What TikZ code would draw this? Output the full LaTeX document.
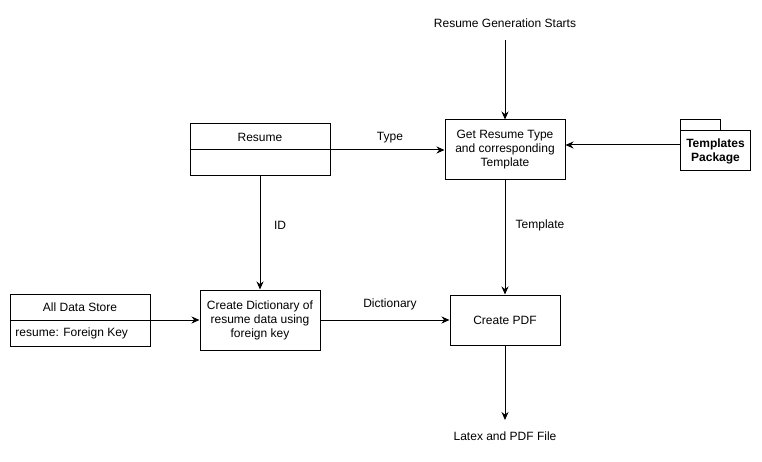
\documentclass[tikz,border=0pt]{standalone}
\usepackage{fontspec}
\setmainfont{Liberation Sans}
\usetikzlibrary{arrows.meta}
\begin{document}
\begin{tikzpicture}[x=1pt,y=-1pt,line width=1pt,
  font=\fontsize{12}{14}\selectfont,
  box/.style={draw,rectangle,inner sep=0pt,align=center},
  flow/.style={-{Stealth[length=8pt,width=7pt]}},
  lbl/.style={inner sep=0pt,align=center}]
\useasboundingbox (0,0) rectangle (762,462);

% start and end
\node [lbl] (start) at (505,23) {Resume Generation Starts};
\coordinate (startout) at (505,40);
\coordinate (pdfout) at (505,420);
\node [lbl] (result) at (505,436) {Latex and PDF File};

% processes
\node [box,minimum width=120pt,minimum height=60pt] (gettype) at (505,150) {Get Resume Type\\and corresponding\\Template};
\node [box,minimum width=120pt,minimum height=60pt] (dict) at (260,320) {Create Dictionary of\\resume data using\\foreign key};
\node [box,minimum width=110pt,minimum height=50pt] (pdf) at (505,320) {Create PDF};

% resume table
\node [box,minimum width=140pt,minimum height=52pt] (resume) at (260,150) {};
\draw (resume.west) -- (resume.east);
\node [lbl] at (260,137) {Resume};

% data store table
\node [box,minimum width=140pt,minimum height=52pt] (store) at (80,320) {};
\draw (store.west) -- (store.east);
\node [lbl] at (80,307) {All Data Store};
\node [lbl,anchor=west] at (15,333) {resume: Foreign Key};

% templates package
\node [minimum width=69pt,minimum height=50pt,inner sep=0pt] (pkg) at (715.5,145) {};
\draw (pkg.north west) rectangle ([xshift=-30pt,yshift=-11pt]pkg.north east);
\draw ([yshift=-11pt]pkg.north west) rectangle (pkg.south east);
\node [lbl] at (715.5,151) {\textbf{Templates}\\\textbf{Package}};

% connectors
\draw [flow] (startout) -- (gettype);
\draw [flow] (resume) -- (gettype);
\draw [flow] (pkg.west) -- (pkg.west -| gettype.east);
\draw [flow] (resume) -- (dict);
\draw [flow] (gettype) -- (pdf);
\draw [flow] (store) -- (dict);
\draw [flow] (dict) -- (pdf);
\draw [flow] (pdf) -- (pdfout);

% connector labels
\node [lbl] (typelbl) at (390,138) {Type};
\node [lbl] (idlbl) at (280,225) {ID};
\node [lbl] (templbl) at (540,225) {Template};
\node [lbl] (dictlbl) at (390,304) {Dictionary};
\end{tikzpicture}
\end{document}
